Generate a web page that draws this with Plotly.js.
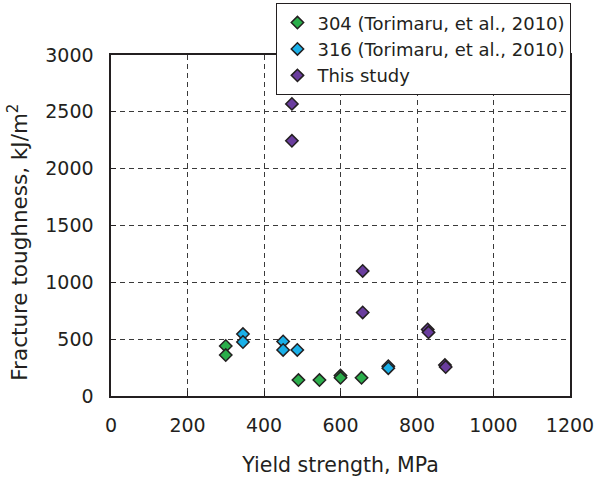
<!DOCTYPE html>
<html>
<head>
<meta charset="utf-8">
<script src="https://cdn.plot.ly/plotly-3.0.1.min.js"></script>
<style>
  html, body { margin: 0; padding: 0; background: #fff; }
  #chart { width: 600px; height: 477px; }
</style>
</head>
<body>
<div id="chart"></div>
<script>
// Yield strength (MPa) vs fracture toughness (kJ/m^2)
const ss304X = [300, 300, 490, 545, 600, 600, 655];
const ss304Y = [440, 360, 140, 140, 180, 160, 160];

const ss316X = [345, 345, 450, 450, 487, 725, 725];
const ss316Y = [545, 475, 480, 405, 405, 262, 245];

const studyX = [473, 473, 658, 658, 828, 830, 873, 875];
const studyY = [2570, 2245, 1100, 735, 585, 560, 272, 255];

const seriesNames = ['304 (Torimaru, et al., 2010)', '316 (Torimaru, et al., 2010)', 'This study'];
const xTicks = [0, 200, 400, 600, 800, 1000, 1200];
const yTicks = [0, 500, 1000, 1500, 2000, 2500, 3000];
const xTitle = 'Yield strength, MPa';
const yTitle = 'Fracture toughness, kJ/m<sup>2</sup>';

function markerStyle(color) {
  return { symbol: 'diamond', size: 9.5, color: color, line: { color: '#231f20', width: 1.5 } };
}

const traces = [
  { x: ss304X, y: ss304Y, name: seriesNames[0], type: 'scatter', mode: 'markers', marker: markerStyle('#2bae4b') },
  { x: ss316X, y: ss316Y, name: seriesNames[1], type: 'scatter', mode: 'markers', marker: markerStyle('#1ab0e8') },
  { x: studyX, y: studyY, name: seriesNames[2], type: 'scatter', mode: 'markers', marker: markerStyle('#6a3d9e') }
];

const axisBase = {
  showline: true, mirror: true, linecolor: '#231f20', linewidth: 1.6,
  ticks: 'inside', ticklen: 5, tickcolor: '#231f20', tickwidth: 1,
  showgrid: true, gridcolor: '#3a3a3a', gridwidth: 1, griddash: '5px,4px',
  zeroline: false, automargin: false,
  tickfont: { family: 'DejaVu Sans', size: 19, color: '#231f20' },
  ticklabelstandoff: 12
};

const layout = {
  width: 600, height: 477,
  margin: { l: 111, r: 30, t: 55, b: 81, autoexpand: false },
  paper_bgcolor: '#fff', plot_bgcolor: '#fff',
  showlegend: true,
  xaxis: Object.assign({}, axisBase, {
    range: [0, 1200], tickvals: xTicks, ticktext: xTicks.map(String),
    title: { text: xTitle, font: { family: 'DejaVu Sans', size: 20.5, color: '#231f20' }, standoff: 24 }
  }),
  yaxis: Object.assign({}, axisBase, {
    range: [0, 3000], tickvals: yTicks, ticktext: yTicks.map(String)
  }),
  // vertical axis title, set a little below the middle of the axis
  annotations: [{
    text: yTitle, textangle: -90, showarrow: false,
    xref: 'paper', yref: 'paper', x: -0.203, y: 0.452,
    xanchor: 'center', yanchor: 'middle',
    font: { family: 'DejaVu Sans', size: 21.5, color: '#231f20' }
  }],
  legend: {
    x: 0.36, y: 1.152, xanchor: 'left', yanchor: 'top',
    bgcolor: '#fff', bordercolor: '#231f20', borderwidth: 1.2,
    font: { family: 'DejaVu Sans', size: 18, color: '#231f20' },
    tracegroupgap: 0
  }
};

Plotly.newPlot('chart', traces, layout, { displayModeBar: false, staticPlot: true });
</script>
</body>
</html>
